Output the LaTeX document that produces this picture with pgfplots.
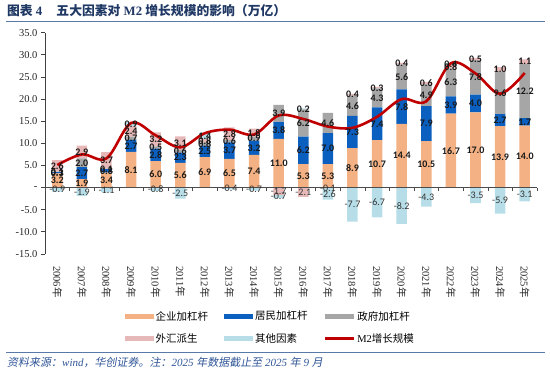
\documentclass[border=0pt]{standalone}
\usepackage{fontspec}
\usepackage{pgfplots}
\usepackage{pgfplotstable}
\pgfplotsset{compat=1.18}
\setmainfont{Liberation Serif}
\newfontfamily\cjk{Noto Sans CJK SC}
\newfontfamily\cjkit{Noto Sans CJK SC}[FakeSlant=0.18]
\newfontfamily\lab{Carlito}
\definecolor{corpc}{HTML}{F4B183}
\definecolor{hhc}{HTML}{0B5FBF}
\definecolor{govc}{HTML}{A6A6A6}
\definecolor{fxc}{HTML}{E6B9B8}
\definecolor{othc}{HTML}{B7DEE8}
\definecolor{m2c}{HTML}{C00000}
\definecolor{titc}{HTML}{1F3864}
\definecolor{rulec}{HTML}{5979A8}
\definecolor{srcc}{HTML}{2F5597}

\pgfplotstableread{
x corp hh gov fxp othp fxn othn m2
0 3.2 0.3 0.1 2.6 0 0 -0.9 5.1
1 1.9 2.7 2.0 2.9 0 0 -1.9 7.5
2 3.4 0.8 0.1 3.7 0 0 -1.1 6.6
3 8.1 2.7 0.7 2.4 0.9 0 0 14.6
4 6.0 2.8 0.5 3.2 0 0 -0.8 11.8
5 5.6 2.3 0.6 3.1 0 0 -2.5 9.1
6 6.9 2.5 0.8 0.8 1.4 0 0 12.3
7 6.5 3.7 0.6 2.8 0 0 -0.4 13.1
8 7.4 3.2 0.9 1.8 0 0 -0.7 12.0
9 11.0 3.8 3.9 0 0 -1.7 -0.7 16.3
10 5.3 6.2 6.2 0 0.2 -2.1 0 15.5
11 5.3 7.0 4.6 0 0 -0.1 -2.6 13.8
12 8.9 7.3 4.6 0.4 0 0 -7.7 13.5
13 10.7 7.4 4.3 0.3 0 0 -6.7 16.0
14 14.4 7.8 5.6 0.4 0 0 -8.2 20.0
15 10.5 7.9 4.9 0.6 0 0 -4.3 19.5
16 16.7 3.9 6.3 0.8 0.4 0 0 28.1
17 17.0 4.0 7.8 0.5 0 0 -3.5 25.8
18 13.9 2.7 9.6 1.0 0 0 -5.9 21.2
19 14.0 1.7 12.2 1.1 0 0 -3.1 25.9
}\data

\newcommand{\yr}[1]{{\rmfamily #1}{\cjk 年}}

\pgfplotsset{
  frame/.style={at={(45pt,125pt)}, anchor=south west,
    scale only axis, width=492pt, height=221.3pt,
    xmin=-0.5, xmax=19.5, ymin=-15, ymax=35},
  lab/.style={only marks, mark=none, point meta=explicit,
    nodes near coords={\pgfmathfloatifflags{\pgfplotspointmeta}{0}{}{\pgfmathprintnumber[fixed,fixed zerofill,precision=1,assume math mode=true]{\pgfplotspointmeta}}},
    every node near coord/.append style={anchor=center, inner sep=0pt, font=\lab\bfseries\fontsize{10}{10}\selectfont, text=black!90}},
  labn/.style={lab, every node near coord/.append style={font=\lab\fontsize{10}{10}\selectfont, text=black!80}},
}

\begin{document}
\begin{tikzpicture}
\useasboundingbox (0,0) rectangle (550pt,379pt);
\node[anchor=base west, inner sep=0pt, text=titc, font=\fontsize{12.8}{14}\selectfont\bfseries] at (7pt,363pt) {{\cjk 图表}~4\hspace{1.1em}{\cjk 五大因素对}~M2~{\cjk 增长规模的影响（万亿）}};
\draw[rulec, line width=1.3pt] (6pt,357.5pt) -- (545pt,357.5pt);
\draw[rulec, line width=1.3pt] (6pt,26.5pt) -- (545pt,26.5pt);
\node[anchor=base west, inner sep=0pt, text=srcc, font=\fontsize{11}{12}\selectfont] at (7pt,12pt) {{\cjkit 资料来源：}{\itshape wind}{\cjkit ，华创证券。注：}{\itshape 2025} {\cjkit 年数据截止至} {\itshape 2025} {\cjkit 年} {\itshape 9} {\cjkit 月}};

% positive stack, axes and legend
\begin{axis}[
  frame,
  ybar stacked, bar width=10.5pt,
  axis y line*=left, axis x line*=bottom,
  x axis line style={draw=none},
  y axis line style={black!75, line width=0.8pt},
  xtick={0,...,19},
  xticklabels={\yr{2006},\yr{2007},\yr{2008},\yr{2009},\yr{2010},\yr{2011},\yr{2012},\yr{2013},\yr{2014},\yr{2015},\yr{2016},\yr{2017},\yr{2018},\yr{2019},\yr{2020},\yr{2021},\yr{2022},\yr{2023},\yr{2024},\yr{2025}},
  xtick style={draw=none},
  xticklabel style={rotate=-90, anchor=west, inner sep=0pt, font=\fontsize{10.5}{12}\selectfont, text=black!85},
  xticklabel shift=8pt,
  ytick={-15,-10,...,35},
  yticklabels={-15.0,-10.0,-5.0,-,5.0,10.0,15.0,20.0,25.0,30.0,35.0},
  ytick style={black!75, line width=0.8pt},
  tick align=outside, major tick length=4pt,
  yticklabel style={font=\fontsize{10.5}{12}\selectfont, text=black!85},
  legend columns=3, legend cell align=left,
  legend style={at={(0.458,-0.332)}, anchor=center, draw=none, fill=none,
    font=\cjk\fontsize{10.5}{12}\selectfont, row sep=8pt,
    /tikz/every even column/.append style={column sep=14pt}},
]
\addplot[fill=corpc, draw=none, legend image code/.code={\fill[corpc] (0pt,-2.6pt) rectangle (29pt,2.6pt);}] table[x=x,y=corp]{\data};
\addlegendentry{企业加杠杆}
\addplot[fill=hhc, draw=none, legend image code/.code={\fill[hhc] (0pt,-2.6pt) rectangle (29pt,2.6pt);}] table[x=x,y=hh]{\data};
\addlegendentry{居民加杠杆}
\addplot[fill=govc, draw=none, legend image code/.code={\fill[govc] (0pt,-2.6pt) rectangle (29pt,2.6pt);}] table[x=x,y=gov]{\data};
\addlegendentry{政府加杠杆}
\addplot[fill=fxc, draw=none, legend image code/.code={\fill[fxc] (0pt,-2.6pt) rectangle (29pt,2.6pt);}] table[x=x,y=fxp]{\data};
\addlegendentry{外汇派生}
\addplot[fill=othc, draw=none, legend image code/.code={\fill[othc] (0pt,-2.6pt) rectangle (29pt,2.6pt);}] table[x=x,y=othp]{\data};
\addlegendentry{其他因素}
\addlegendimage{legend image code/.code={\draw[m2c, line width=2.6pt] (0pt,0pt) -- (29pt,0pt);}}
\addlegendentry{{\rmfamily M2}增长规模}
\end{axis}

% negative stack
\begin{axis}[
  frame, hide axis,
  ybar stacked, bar width=10.5pt,
]
\addplot[fill=fxc, draw=none] table[x=x,y=fxn]{\data};
\addplot[fill=othc, draw=none] table[x=x,y=othn]{\data};
\end{axis}

% zero line, M2 line, data labels
\begin{axis}[
  frame,
  axis x line*=middle, axis y line=none,
  x axis line style={black!70, line width=0.8pt},
  xtick={-0.5,0.5,...,19.5}, xticklabels={},
  xtick style={black!70, line width=0.6pt},
  tick align=outside, major tick length=3.5pt,
  clip=false,
]
\addplot[smooth, tension=0.55, m2c, line width=2.6pt, mark=none] table[x=x,y=m2]{\data};
\addplot[lab] table[x=x, y expr={\thisrow{corp}/2}, meta=corp]{\data};
\addplot[lab] table[x=x, y expr={\thisrow{corp}+\thisrow{hh}/2}, meta=hh]{\data};
\addplot[lab] table[x=x, y expr={\thisrow{corp}+\thisrow{hh}+\thisrow{gov}/2}, meta=gov]{\data};
\addplot[lab] table[x=x, y expr={\thisrow{corp}+\thisrow{hh}+\thisrow{gov}+\thisrow{fxp}/2}, meta=fxp]{\data};
\addplot[lab] table[x=x, y expr={\thisrow{corp}+\thisrow{hh}+\thisrow{gov}+\thisrow{fxp}+\thisrow{othp}/2}, meta=othp]{\data};
\addplot[labn] table[x=x, y expr={\thisrow{fxn}/2}, meta=fxn]{\data};
\addplot[labn] table[x=x, y expr={\thisrow{fxn}+\thisrow{othn}/2}, meta=othn]{\data};
\end{axis}
\end{tikzpicture}
\end{document}
